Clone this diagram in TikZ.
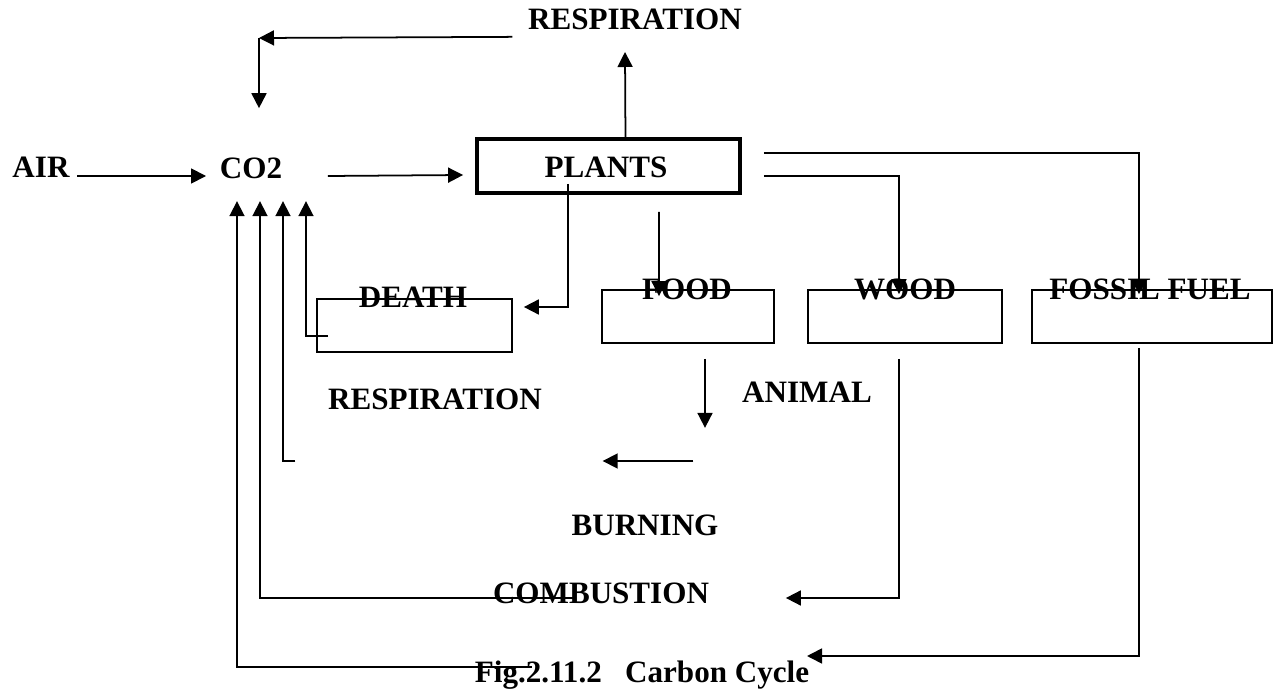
\documentclass[tikz,border=0pt]{standalone}
\usepackage{fontspec}
\setmainfont{Liberation Serif}
\usetikzlibrary{arrows.meta,calc}

\begin{document}
\begin{tikzpicture}[x=0.02cm,y=-0.02cm,line width=1pt,
  >={Triangle[length=3mm,width=3mm]},
  lbl/.style={font=\fontsize{17.7}{20}\selectfont\bfseries,inner sep=0pt,anchor=base},
  box/.style={draw,inner sep=0pt,minimum height=1.06cm}]
\useasboundingbox (0,0) rectangle (1279,689);
% boxes
\node[box,line width=2.2pt,minimum width=5.26cm,minimum height=1.08cm] (plants) at (608.5,166) {};
\node[box,minimum width=3.9cm] (deathbox) at (414.5,325.5) {};
\node[box,minimum width=3.44cm] (foodbox) at (688,316.5) {};
\node[box,minimum width=3.88cm] (woodbox) at (905,316.5) {};
\node[box,minimum width=4.8cm] (fossilbox) at (1152,316.5) {};
% labels
\node[lbl] (air) at (41,178) {AIR};
\node[lbl] (co2) at (251,179) {CO2};
\node[lbl] (resptop) at (635,30) {RESPIRATION};
\node[lbl] at (606,178) {PLANTS};
\node[lbl] (death) at (413,308) {DEATH};
\node[lbl] (food) at (687,300) {FOOD};
\node[lbl] (wood) at (905,300) {WOOD};
\node[lbl] (fossil) at (1150,300) {FOSSIL FUEL};
\node[lbl] (respmid) at (435,410) {RESPIRATION};
\node[lbl] (animal) at (807,402) {ANIMAL};
\node[lbl] (burning) at (645,535) {BURNING};
\node[lbl] (combust) at (601,603) {COMBUSTION};
\node[lbl] (caption) at (642,682) {Fig.2.11.2\ \ \ Carbon Cycle};
\coordinate (cnr) at (259,38);
% arrows
\draw[->] ($(air.base east)+(7,-2)$) -- ($(co2.base west)+(-13,-3)$);
\draw[->] ($(co2.base east)+(45,-3)$) -- ($(plants.west)+(-12,9)$);
\draw[->] ($(plants.north)+(17,3)$) -- ($(resptop.base)+(-10,22)$);
\draw[->] ($(resptop.west)+(-15,17)$) -- (cnr);
\draw[->] (cnr) -- ($(co2.south)+(8,-72)$);
\draw[->] ($(caption.base west)+(58,-15)$) -| ($(co2.south)+(-14,21)$);
\draw[->] ($(combust.base west)+(84,-5)$) -| ($(co2.south)+(9,21)$);
\draw[->] ($(respmid.base west)+(-32,51)$) -| ($(co2.south)+(32,21)$);
\draw[->] ($(deathbox.west)+(12,10.5)$) -| ($(co2.south)+(55,21)$);
\draw[->] ($(plants.south)+(-40.5,-11)$) |- ($(deathbox.east)+(11,-18.5)$);
\draw[->] ($(plants.south)+(50.5,17)$) -- ($(foodbox.north)+(-29,7)$);
\draw[->] ($(plants.east)+(22,10)$) -| ($(woodbox.north)+(-6,5)$);
\draw[->] ($(plants.east)+(22,-13)$) -| ($(fossilbox.north)+(-13,5)$);
\draw[->] ($(foodbox.south)+(17,15)$) -- ($(foodbox.south)+(17,84)$);
\draw[->] ($(animal.base west)+(-48,59)$) -- ($(burning.base west)+(32,-74)$);
\draw[->] ($(woodbox.south)+(-6,15)$) |- ($(combust.base east)+(76,-5)$);
\draw[->] ($(fossilbox.south)+(-13,4)$) |- ($(caption.base east)+(-3,-26)$);
\end{tikzpicture}
\end{document}
